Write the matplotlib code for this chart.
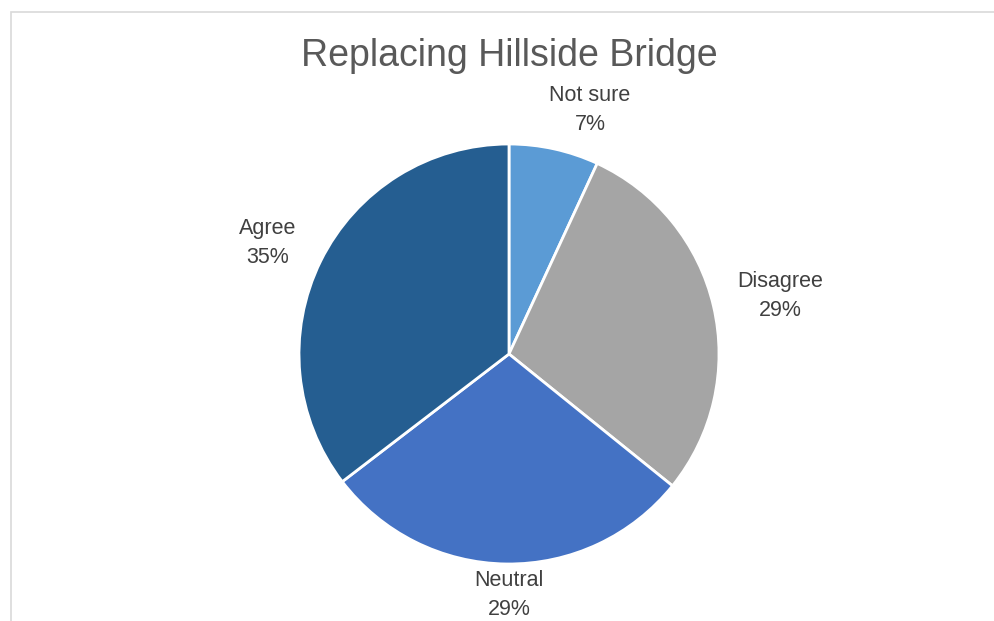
import matplotlib
matplotlib.use("Agg")
import matplotlib.pyplot as plt
from matplotlib.patches import Rectangle

categories = ["Not sure", "Disagree", "Neutral", "Agree"]
values = [6.9, 28.9, 28.8, 35.4]  # percent
colors = ["#5B9BD5", "#A5A5A5", "#4472C4", "#255E91"]
title = "Replacing Hillside Bridge"

# label placement (pie radius units), tuned to the reference layout
label_pos = [(0.386, 1.162), (1.29, 0.276), (0.0, -1.148), (-1.148, 0.529)]

plt.rcParams["font.family"] = ["Liberation Sans", "DejaVu Sans"]
W, H = 994, 621
fig = plt.figure(figsize=(W / 100, H / 100), dpi=100)

# chart area border (cropped on right/bottom in the reference)
fig.add_artist(Rectangle((11 / W, -0.1), 1.2, 1 - 12 / H + 0.1, transform=fig.transFigure,
                         fill=False, ec="#D9D9D9", lw=1.2))

cx, cy, R = 509, 354, 210
half = 1.3 * R
ax = fig.add_axes([(cx - half) / W, 1 - (cy + half) / H, 2 * half / W, 2 * half / H])
ax.pie(values, colors=colors, startangle=90, counterclock=False, radius=1,
       wedgeprops=dict(edgecolor="white", linewidth=2))
ax.set_xlim(-1.3, 1.3); ax.set_ylim(-1.3, 1.3)
ax.set_aspect("equal"); ax.axis("off")

for (x, y), c, v in zip(label_pos, categories, values):
    ax.text(x, y, f"{c}\n{round(v)}%", ha="center", va="center", fontsize=15.5,
            color="#404040", linespacing=1.5)

fig.text(509 / W, 1 - 56 / H, title, ha="center", va="center", fontsize=27, color="#595959")

fig.savefig("out.png", dpi=100)
